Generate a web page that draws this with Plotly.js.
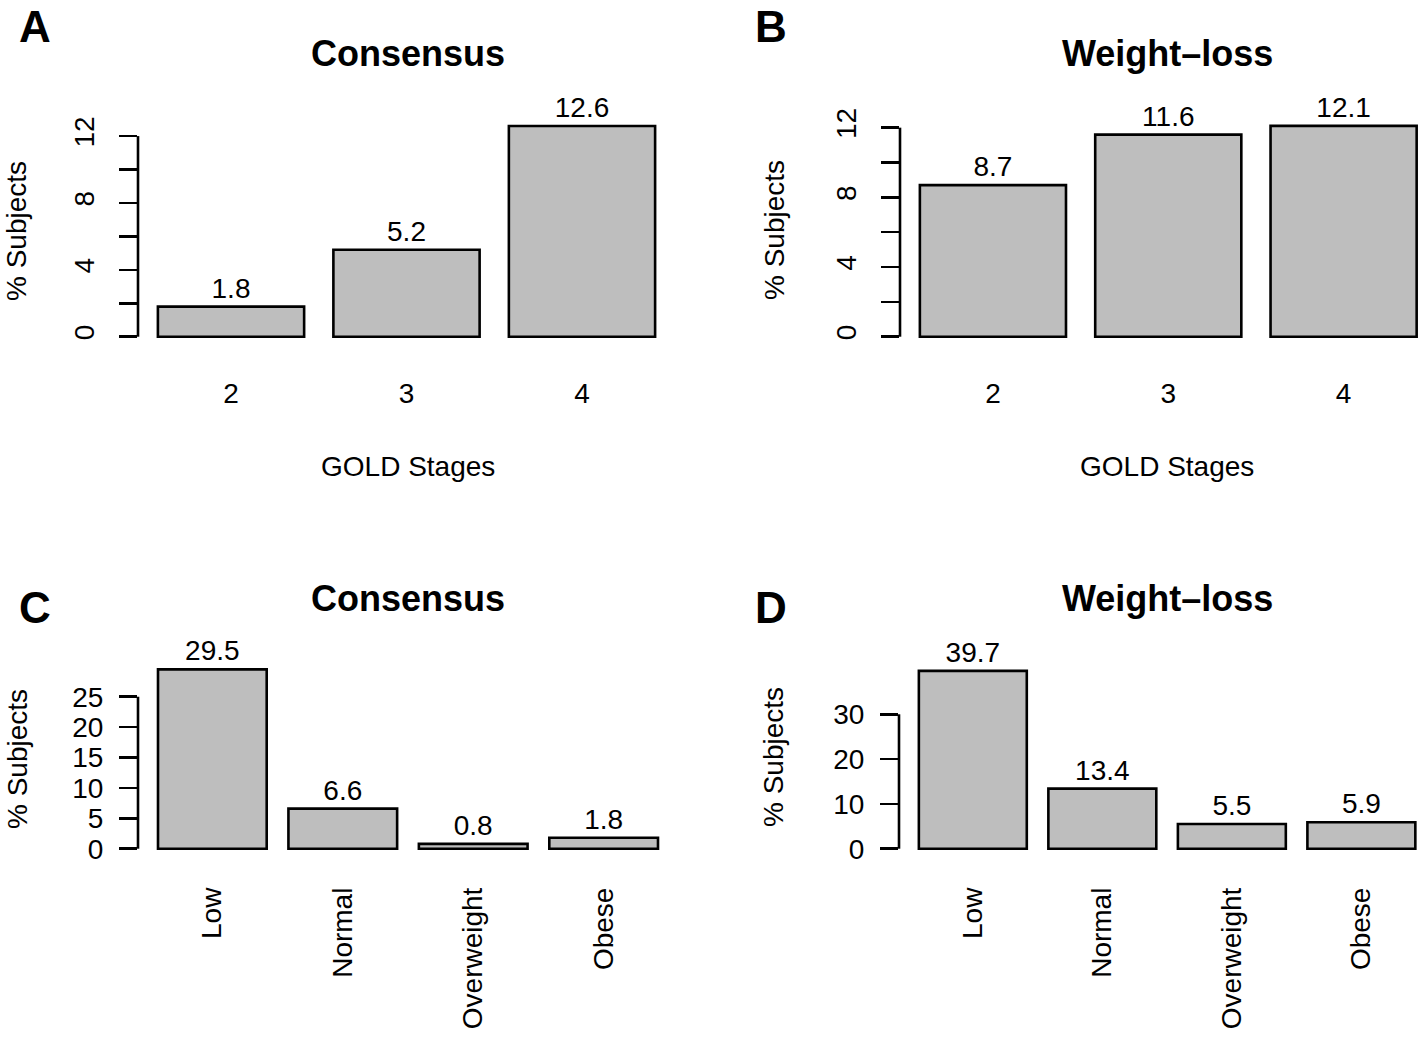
<!DOCTYPE html>
<html>
<head>
<meta charset="utf-8">
<script src="https://cdn.plot.ly/plotly-3.0.1.min.js"></script>
<style>html,body{margin:0;padding:0;background:#fff}#chart{width:1419px;height:1037px}</style>
</head>
<body>
<div id="chart"></div>
<script>
// ---- data ----
const goldStages = ['2', '3', '4'];
const goldConsensus = [1.8, 5.2, 12.6];
const goldWeightLoss = [8.7, 11.6, 12.1];
const bmiCategories = ['Low', 'Normal', 'Overweight', 'Obese'];
const bmiConsensus = [29.5, 6.6, 0.8, 1.8];
const bmiWeightLoss = [39.7, 13.4, 5.5, 5.9];

const goldTickVals = [0, 2, 4, 6, 8, 10, 12];
const goldTickText = ['0', '', '4', '', '8', '', '12'];
const bmiConsTickVals = [0, 5, 10, 15, 20, 25];
const bmiConsTickText = ['0', '5', '10', '15', '20', '25'];
const bmiWlTickVals = [0, 10, 20, 30];
const bmiWlTickText = ['0', '10', '20', '30'];

const panelLetters = ['A', 'B', 'C', 'D'];
const panelTitles = ['Consensus', 'Weight\u2013loss', 'Consensus', 'Weight\u2013loss'];
const xAxisTitle = 'GOLD Stages';
const yAxisTitle = '% Subjects';

// ---- styling ----
const W = 1419, H = 1037;
const FONT = 'Liberation Sans, Arial, Helvetica, sans-serif';
const TXT = 28;
const LW = 2.6;
const px = v => v / W;
const py = v => 1 - v / H;

function barTrace(x, y, ax) {
  return {
    type: 'bar', x: x, y: y,
    xaxis: 'x' + ax, yaxis: 'y' + ax,
    marker: {color: '#bebebe', line: {color: '#000', width: LW}},
    text: y.map(v => v.toFixed(1)),
    textposition: 'outside',
    textfont: {family: FONT, size: TXT, color: '#000'},
    cliponaxis: false,
    hoverinfo: 'skip'
  };
}

const data = [
  barTrace(goldStages, goldConsensus, ''),
  barTrace(goldStages, goldWeightLoss, '2'),
  barTrace(bmiCategories, bmiConsensus, '3'),
  barTrace(bmiCategories, bmiWeightLoss, '4')
];

function xAxis(anchor, domain, range, angle, standoff) {
  return {
    anchor: anchor, domain: domain, range: range, type: 'category',
    showgrid: false, zeroline: false, showline: false, ticks: '',
    tickangle: angle, ticklabelstandoff: standoff,
    tickfont: {family: FONT, size: TXT, color: '#000'}, fixedrange: true
  };
}
function yAxis(anchor, domain, range, vals, text, angle, standoff) {
  return {
    anchor: anchor, domain: domain, range: range,
    showgrid: false, zeroline: false, showline: false,
    ticks: 'outside', ticklen: 18, tickwidth: LW, tickcolor: '#000',
    tickmode: 'array', tickvals: vals, ticktext: text,
    tickangle: angle, ticklabelstandoff: standoff,
    tickfont: {family: FONT, size: TXT, color: '#000'}, fixedrange: true
  };
}

const topY = [py(345), py(115)];
const botY = [py(856), py(640)];

const layout = {
  width: W, height: H,
  margin: {l: 0, r: 0, t: 0, b: 0, pad: 0},
  paper_bgcolor: '#fff', plot_bgcolor: 'rgba(0,0,0,0)',
  showlegend: false,
  bargap: 1 - 1 / 1.2,
  font: {family: FONT, color: '#000'},
  xaxis: xAxis('y', [px(138), px(675)], [-0.53, 2.53], 0, 29),
  yaxis: yAxis('x', topY, [-0.496, 13.26], goldTickVals, goldTickText, -90, 14),
  xaxis2: xAxis('y2', [px(900), 1], [-0.53, 2.43], 0, 29),
  yaxis2: yAxis('x2', topY, [-0.476, 12.727], goldTickVals, goldTickText, -90, 14),
  xaxis3: xAxis('y3', [px(138), px(678)], [-0.57, 3.57], -90, 25),
  yaxis3: yAxis('x3', botY, [-1.2, 34.33], bmiConsTickVals, bmiConsTickText, 0, 10),
  xaxis4: xAxis('y4', [px(899), 1], [-0.57, 3.445], -90, 25),
  yaxis4: yAxis('x4', botY, [-1.63, 46.58], bmiWlTickVals, bmiWlTickText, 0, 10),
  shapes: [],
  annotations: []
};

// axis lines that span only the tick range (as in R base graphics)
[['', goldTickVals], ['2', goldTickVals], ['3', bmiConsTickVals], ['4', bmiWlTickVals]].forEach(([ax, vals]) => {
  layout.shapes.push({
    type: 'line', xref: 'x' + ax + ' domain', yref: 'y' + ax,
    x0: 0, x1: 0, y0: vals[0], y1: vals[vals.length - 1],
    line: {color: '#000', width: LW}
  });
});

function ann(text, x, y, size, bold, angle, yanchor) {
  layout.annotations.push({
    text: bold ? '<b>' + text + '</b>' : text,
    xref: 'paper', yref: 'paper', x: px(x), y: py(y),
    xanchor: 'center', yanchor: yanchor || 'middle', showarrow: false,
    textangle: angle || 0,
    font: {family: FONT, size: size, color: '#000'}
  });
}

const letterPos = [[35, 0, 'top'], [771, 0, 'top'], [35, 607, 'middle'], [771, 607, 'middle']];
const titlePos = [[408, 53], [1167, 53], [408, 598], [1167, 598]];
const yLabPos = [[17, 231], [775, 230], [17, 759], [773, 757]];
panelLetters.forEach((l, i) => ann(l, letterPos[i][0], letterPos[i][1], 44, true, 0, letterPos[i][2]));
panelTitles.forEach((t, i) => ann(t, titlePos[i][0], titlePos[i][1], 36, true));
yLabPos.forEach(p => ann(yAxisTitle, p[0], p[1], TXT, false, -90));
ann(xAxisTitle, 408, 466, TXT, false);
ann(xAxisTitle, 1167, 467, TXT, false);

Plotly.newPlot('chart', data, layout, {staticPlot: true, displayModeBar: false});
</script>
</body>
</html>
